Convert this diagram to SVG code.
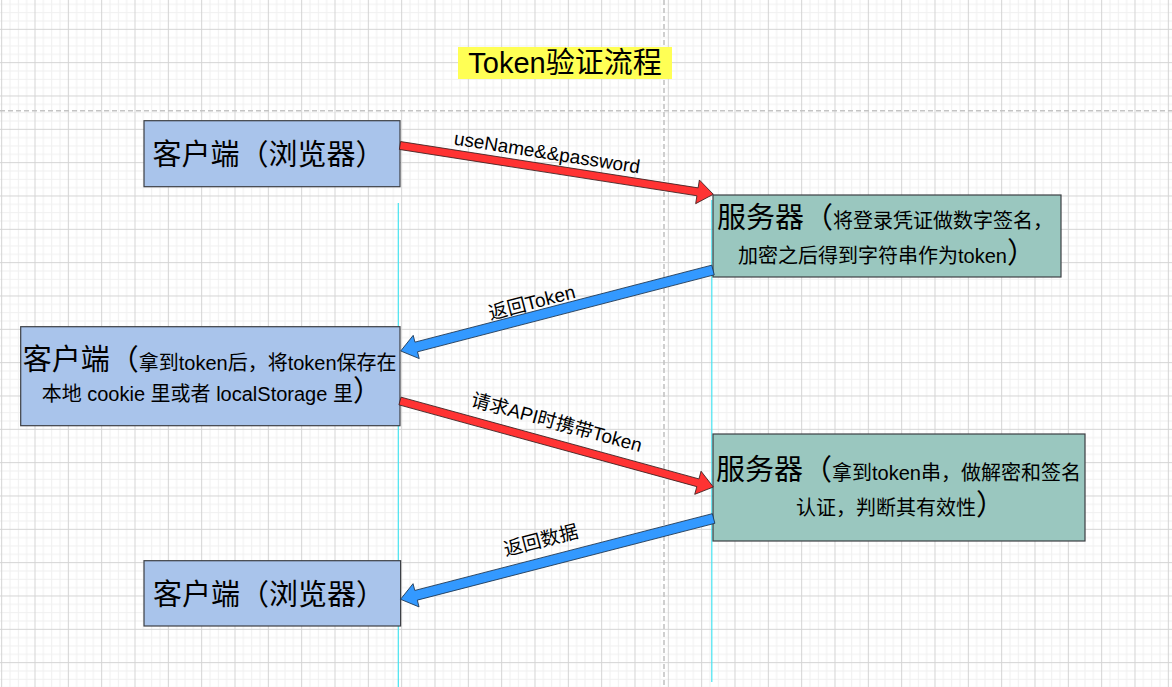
<svg xmlns="http://www.w3.org/2000/svg" width="1172" height="687" viewBox="0 0 1172 687">
<style>
  text { font-family: "Liberation Sans", "Noto Sans CJK SC", sans-serif; fill: #000; }
  .big { font-size: 29px; }
  .small { font-size: 20px; }
  .lbl { font-size: 19px; text-anchor: middle; }
  .client { fill: #A9C4EB; stroke: #3c3f44; stroke-width: 1.2; }
  .server { fill: #9AC7BF; stroke: #3c3f44; stroke-width: 1.2; }
  .red { fill: #FF3333; stroke: #3a2020; stroke-width: 0.8; }
  .blue { fill: #3399FF; stroke: #1c3550; stroke-width: 0.8; }
  .dash { stroke: #c4c4c4; stroke-width: 1.6; stroke-dasharray: 5 3; fill: none; }
  .life { stroke: #45E3F0; stroke-width: 1.2; fill: none; }
</style>
<defs>
  <pattern id="grid" patternUnits="userSpaceOnUse" x="1.17" y="28.83" width="33.333" height="33.333">
    <rect width="33.333" height="33.333" fill="#ffffff"/>
    <path d="M8.83 0V33.333M17.17 0V33.333M25.5 0V33.333M0 8.83H33.333M0 17.17H33.333M0 25.5H33.333" stroke="#f0f0f0" stroke-width="1"/>
    <path d="M0.5 0V33.333M0 0.5H33.333" stroke="#d4d4d4" stroke-width="1"/>
  </pattern>
</defs>
<rect width="1172" height="687" fill="url(#grid)"/>
<g id="guides">
  <path class="dash" d="M0 110.7H1172"/>
  <path class="dash" d="M664 0V687"/>
  <path class="life" d="M398.3 203V687"/>
  <path class="life" d="M711.8 200V682"/>
</g>
<g id="title">
  <rect x="458" y="47" width="214" height="32" fill="#FFFF55"/>
  <text x="565" y="73" font-size="29" text-anchor="middle">Token验证流程</text>
</g>
<g id="client1">
  <rect class="client" x="144" y="120.7" width="256" height="66"/>
  <text class="big" x="152.5" y="164.5">客户端（浏览器）</text>
</g>
<g id="server1">
  <rect class="server" x="713" y="195" width="348" height="82"/>
  <text x="717" y="228"><tspan class="big">服务器（</tspan><tspan class="small">将登录凭证做数字签名，</tspan></text>
  <text x="738" y="263"><tspan class="small">加密之后得到字符串作为token</tspan><tspan class="big">）</tspan></text>
</g>
<g id="client2">
  <rect class="client" x="20.7" y="326.7" width="379.3" height="99"/>
  <text x="22.7" y="370"><tspan class="big">客户端（</tspan><tspan class="small">拿到token后，将token保存在</tspan></text>
  <text x="41.7" y="401"><tspan class="small">本地 cookie 里或者 localStorage 里</tspan><tspan class="big">）</tspan></text>
</g>
<g id="server2">
  <rect class="server" x="713" y="434" width="372" height="107"/>
  <text x="716" y="480"><tspan class="big">服务器（</tspan><tspan class="small">拿到token串，做解密和签名</tspan></text>
  <text x="796" y="515"><tspan class="small">认证，判断其有效性</tspan><tspan class="big">）</tspan></text>
</g>
<g id="client3">
  <rect class="client" x="144" y="560.7" width="256.6" height="65.3"/>
  <text class="big" x="153" y="604.5">客户端（浏览器）</text>
</g>
<g id="connectors">
  <polygon class="red" transform="translate(400,145.5) rotate(8.85)" points="0,-4 301.1,-4 301.1,-12 317.1,0 301.1,12 301.1,4 0,4"/>
  <text class="lbl" transform="translate(547,153) rotate(8.85)" x="0" y="6">useName&amp;&amp;password</text>
  <polygon class="blue" transform="translate(713,270) rotate(165.46)" points="0,-5 306.6,-5 306.6,-12 322.6,0 306.6,12 306.6,5 0,5"/>
  <text class="lbl" transform="translate(532,303) rotate(-14.5)" x="0" y="6">返回Token</text>
  <polygon class="blue" transform="translate(713.6,518.5) rotate(165.53)" points="0,-5 307.3,-5 307.3,-12 323.3,0 307.3,12 307.3,5 0,5"/>
  <polygon class="red" transform="translate(400,401) rotate(15.35)" points="0,-4 308.9,-4 308.9,-12 324.9,0 308.9,12 308.9,4 0,4"/>
  <text class="lbl" transform="translate(556.5,423) rotate(15.35)" x="0" y="6">请求API时携带Token</text>
  <text class="lbl" transform="translate(541,541) rotate(-14.5)" x="0" y="6">返回数据</text>
</g>
</svg>
